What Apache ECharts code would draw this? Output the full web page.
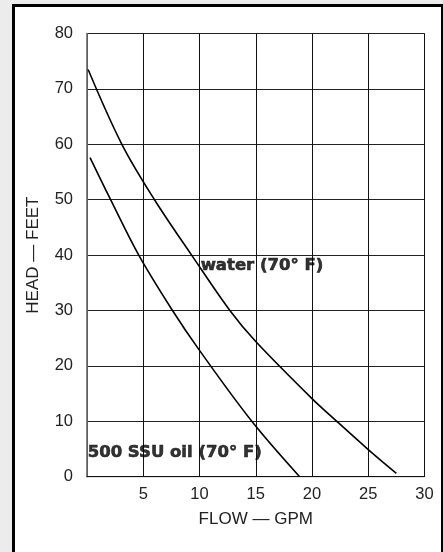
<!DOCTYPE html>
<html>
<head>
<meta charset="utf-8">
<script src="https://cdn.jsdelivr.net/npm/echarts@6/dist/echarts.min.js"></script>
<style>
  html, body { margin: 0; padding: 0; width: 443px; height: 552px; overflow: hidden; background: #ececec; }
  #frame { position: absolute; left: 12px; top: 4px; width: 426px; height: 600px; border: 3px solid #000; background: #fff; }
  #chart { position: absolute; left: 0; top: 0; width: 443px; height: 552px; }
</style>
</head>
<body>
<div id="frame"></div>
<div id="chart"></div>
<script>
// Flow (GPM) vs head (feet)
const waterFlow = [0.1, 3.1, 6.0, 9.3, 12.7, 15.0, 20.0, 22.2, 25.0, 27.5];
const waterHead = [73.5, 60, 50, 40, 30, 24.4, 14.1, 10, 4.9, 0.6];
const oilFlow = [0.27, 2.1, 4.6, 7.6, 10.0, 14.65, 18.9];
const oilHead = [57.6, 50, 40, 30, 22.8, 10, 0];

const labelTexts = ['water (70\u00b0 F)', '500 SSU oil (70\u00b0 F)'];
const labelFlow = [10.1, 0.06];
const labelHead = [38.1, 4.3];

const xAxisName = 'FLOW \u2014 GPM';
const yAxisName = 'HEAD \u2014 FEET';

const chart = echarts.init(document.getElementById('chart'), null, { renderer: 'canvas' });

function pairs(xs, ys) { return xs.map((x, i) => [x, ys[i]]); }

const lineStyle = { color: '#000', width: 1.6 };
const font = 'Liberation Sans, Arial, Helvetica, sans-serif';

chart.setOption({
  backgroundColor: 'transparent',
  animation: false,
  grid: {
    left: 87, right: 18.5, top: 33.5, bottom: 75.3,
    show: true, borderColor: '#666', borderWidth: 1, backgroundColor: 'transparent'
  },
  xAxis: {
    type: 'value', min: 0, max: 30, interval: 5,
    name: xAxisName, nameLocation: 'middle', nameGap: 34,
    nameTextStyle: { fontFamily: font, fontSize: 17, color: '#222' },
    axisLine: { show: true, lineStyle: { color: '#111', width: 1 } },
    axisTick: { show: false },
    axisLabel: {
      fontFamily: font, fontSize: 16.5, color: '#222', margin: 9,
      formatter: v => (v === 0 ? '' : String(v))
    },
    splitLine: { show: true, lineStyle: { color: '#111', width: 1 } }
  },
  yAxis: {
    type: 'value', min: 0, max: 80, interval: 10,
    name: yAxisName, nameLocation: 'middle', nameGap: 45,
    nameTextStyle: { fontFamily: font, fontSize: 17, color: '#222' },
    axisLine: { show: true, lineStyle: { color: '#777', width: 1.5 } },
    axisTick: { show: false },
    axisLabel: { fontFamily: font, fontSize: 16.5, color: '#222', margin: 14 },
    splitLine: { show: true, lineStyle: { color: '#222', width: 1 } }
  },
  series: [
    {
      type: 'line', data: pairs(waterFlow, waterHead), smooth: 0.35,
      showSymbol: false, lineStyle: lineStyle, z: 5
    },
    {
      type: 'line', data: pairs(oilFlow, oilHead), smooth: 0.35,
      showSymbol: false, lineStyle: lineStyle, z: 5
    },
    {
      type: 'scatter', symbolSize: 0, z: 10,
      data: labelTexts.map((t, i) => ({ value: [labelFlow[i], labelHead[i]], name: t })),
      label: {
        show: true, position: 'right', distance: 0,
        formatter: p => p.name,
        fontFamily: 'DejaVu Sans, sans-serif', fontWeight: 'bold', fontSize: 16.5, color: '#000',
        textBorderColor: '#000', textBorderWidth: 0.6
      }
    }
  ]
});
</script>
</body>
</html>
